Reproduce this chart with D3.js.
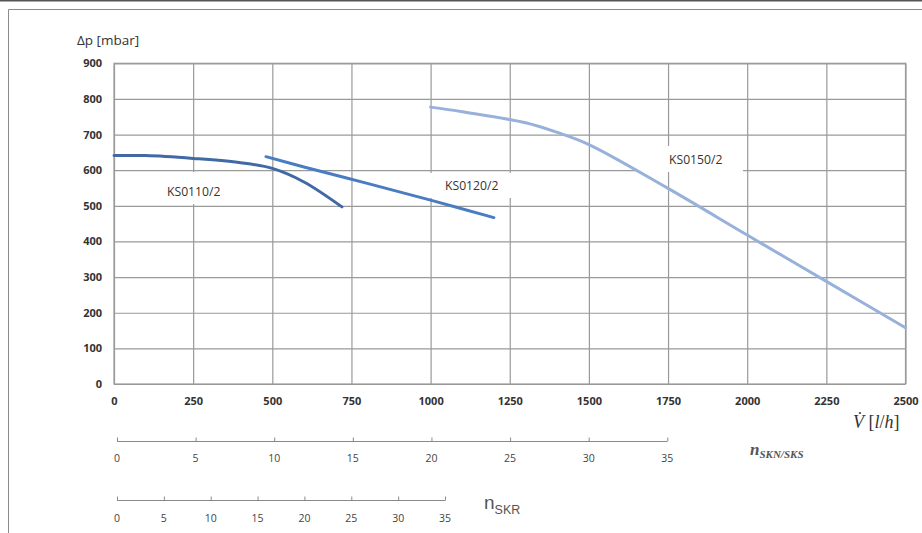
<!DOCTYPE html>
<html>
<head>
<meta charset="utf-8">
<script src="https://cdn.jsdelivr.net/npm/d3@7"></script>
<style>
  html, body { margin: 0; padding: 0; background: #fff; }
  svg { display: block; }
</style>
</head>
<body>
<svg id="chart" width="922" height="533"></svg>
<script>
// ---- data ----
const flowTicks = [0, 250, 500, 750, 1000, 1250, 1500, 1750, 2000, 2250, 2500];
const pressureTicks = [0, 100, 200, 300, 400, 500, 600, 700, 800, 900];
const nSknTicks = [0, 5, 10, 15, 20, 25, 30, 35];
const nSkrTicks = [0, 5, 10, 15, 20, 25, 30, 35];
const seriesNames = ["KS0110/2", "KS0120/2", "KS0150/2"];
const ks0110Flow = [0, 100, 250, 400, 500, 600, 720];
const ks0110Dp   = [641, 641, 633, 621, 605, 567, 497];
const ks0120Flow = [480, 600, 800, 1000, 1200];
const ks0120Dp   = [638, 609, 563, 516, 467];
const ks0150Flow = [1000, 1100, 1300, 1400, 1500, 1750, 2000, 2250, 2500];
const ks0150Dp   = [777, 764, 733, 706, 672, 549, 418, 288, 158];

// ---- layout ----
const svg = d3.select("#chart");
const X0 = 114, X1 = 905.5, Y0 = 384, Y1 = 63.3;
const x = d3.scaleLinear().domain([0, 2500]).range([X0, X1]);
const y = d3.scaleLinear().domain([0, 900]).range([Y0, Y1]);
const xSkn = d3.scaleLinear().domain([0, 35]).range([117, 667.3]);
const xSkr = d3.scaleLinear().domain([0, 35]).range([117, 445]);
const sans = "'Open Sans', 'Noto Sans', sans-serif";

// page frame
svg.append("line").attr("x1", 0).attr("x2", 922).attr("y1", 0.75).attr("y2", 0.75)
  .attr("stroke", "#555").attr("stroke-width", 1.5);
svg.append("line").attr("x1", 8.5).attr("x2", 922).attr("y1", 9.5).attr("y2", 9.5)
  .attr("stroke", "#8a8a8a").attr("stroke-width", 1);
svg.append("line").attr("x1", 8.5).attr("x2", 8.5).attr("y1", 9.5).attr("y2", 533)
  .attr("stroke", "#8a8a8a").attr("stroke-width", 1);

// gridlines via axes
const gridX = svg.append("g").attr("transform", `translate(0,${Y0})`)
  .call(d3.axisBottom(x).tickValues(flowTicks).tickSize(-(Y0 - Y1)).tickFormat(""));
const gridY = svg.append("g").attr("transform", `translate(${X0},0)`)
  .call(d3.axisLeft(y).tickValues(pressureTicks).tickSize(-(X1 - X0)).tickFormat(""));
[gridX, gridY].forEach(g => {
  g.select(".domain").remove();
  g.selectAll(".tick line").attr("stroke", "#9a9a9a").attr("stroke-width", 1.2);
});
// plot frame
svg.append("rect").attr("x", X0).attr("y", Y1).attr("width", X1 - X0).attr("height", Y0 - Y1)
  .attr("fill", "none").attr("stroke", "#9a9a9a").attr("stroke-width", 1.2);

// white label boxes (cover gridlines)
const labelBoxes = [
  {x: 150, y: 172, w: 85, h: 32},
  {x: 424, y: 173, w: 92, h: 25},
  {x: 638, y: 146, w: 105, h: 26}
];
svg.selectAll("rect.lb").data(labelBoxes).join("rect").attr("class", "lb")
  .attr("x", d => d.x).attr("y", d => d.y).attr("width", d => d.w).attr("height", d => d.h)
  .attr("fill", "#fff");

// y tick labels
const yAxis = svg.append("g").attr("transform", `translate(${X0 - 12},0)`)
  .call(d3.axisLeft(y).tickValues(pressureTicks).tickSize(0).tickPadding(0).tickFormat(d3.format("d")));
yAxis.select(".domain").remove();
yAxis.selectAll("text").attr("font-family", sans).attr("font-weight", "bold")
  .attr("font-size", 11).attr("fill", "#333");

// x tick labels
const xAxis = svg.append("g").attr("transform", `translate(0,${Y0 + 13})`)
  .call(d3.axisBottom(x).tickValues(flowTicks).tickSize(0).tickPadding(0).tickFormat(d3.format("d")));
xAxis.select(".domain").remove();
xAxis.selectAll("text").attr("font-family", sans).attr("font-weight", "bold")
  .attr("font-size", 11).attr("fill", "#333");

// series lines
const line = d3.line().x(d => x(d[0])).y(d => y(d[1])).curve(d3.curveCatmullRom.alpha(0.5));
const series = [
  {name: seriesNames[0], pts: d3.zip(ks0110Flow, ks0110Dp), color: "#4169a6"},
  {name: seriesNames[1], pts: d3.zip(ks0120Flow, ks0120Dp), color: "#4a7cc2"},
  {name: seriesNames[2], pts: d3.zip(ks0150Flow, ks0150Dp), color: "#98b1da"}
];
svg.selectAll("path.s").data(series).join("path").attr("class", "s")
  .attr("d", d => line(d.pts)).attr("fill", "none")
  .attr("stroke", d => d.color).attr("stroke-width", 3).attr("stroke-linecap", "round");

// series labels
const labelPos = [[167, 196], [445, 190], [669, 164]];
svg.selectAll("text.sl").data(series).join("text").attr("class", "sl")
  .attr("x", (d, i) => labelPos[i][0]).attr("y", (d, i) => labelPos[i][1])
  .attr("font-family", sans).attr("font-size", 12.2).attr("fill", "#333")
  .text(d => d.name);

// axis titles
svg.append("text").attr("x", 77).attr("y", 45).attr("font-family", sans)
  .attr("font-size", 13.5).attr("fill", "#333").text("Δp [mbar]");

const vt = svg.append("text").attr("x", 853).attr("y", 428)
  .attr("font-family", "'Liberation Serif', serif").attr("font-size", 18).attr("fill", "#333");
vt.append("tspan").attr("font-style", "italic").text("V\u0307");
vt.append("tspan").text(" [");
vt.append("tspan").attr("font-style", "italic").text("l");
vt.append("tspan").text("/");
vt.append("tspan").attr("font-style", "italic").text("h");
vt.append("tspan").text("]");

// n axes
const sknAxis = svg.append("g").attr("transform", "translate(0,441.5)")
  .call(d3.axisTop(xSkn).tickValues(nSknTicks).tickSize(4).tickFormat(""));
const skrAxis = svg.append("g").attr("transform", "translate(0,500.5)")
  .call(d3.axisTop(xSkr).tickValues(nSkrTicks).tickSize(4).tickFormat(""));
[[sknAxis, xSkn], [skrAxis, xSkr]].forEach(([g, sc]) => {
  const r = sc.range();
  g.select(".domain").attr("stroke", "#8a8a8a").attr("d", `M${r[0]},0H${r[1]}`);
  g.selectAll(".tick line").attr("stroke", "#8a8a8a");
});
svg.append("g").selectAll("text").data(nSknTicks).join("text")
  .attr("x", d => xSkn(d)).attr("y", 462).attr("text-anchor", "middle")
  .attr("font-family", sans).attr("font-size", 10.5).attr("fill", "#444").text(d => d);
svg.append("g").selectAll("text").data(nSkrTicks).join("text")
  .attr("x", d => xSkr(d)).attr("y", 522).attr("text-anchor", "middle")
  .attr("font-family", sans).attr("font-size", 10.5).attr("fill", "#444").text(d => d);

const nt = svg.append("text").attr("x", 750).attr("y", 455)
  .attr("font-family", "'Liberation Serif', serif").attr("font-style", "italic")
  .attr("font-weight", "bold").attr("fill", "#555");
nt.append("tspan").attr("font-size", 17).text("n");
nt.append("tspan").attr("font-size", 11).attr("dy", 3).text("SKN/SKS");

const nr = svg.append("text").attr("x", 484).attr("y", 509)
  .attr("font-family", "'Liberation Sans', Arial, sans-serif").attr("fill", "#555");
nr.append("tspan").attr("font-size", 19).attr("font-weight", 300).text("n");
nr.append("tspan").attr("font-size", 12.5).attr("dy", 5).text("SKR");
</script>
</body>
</html>
